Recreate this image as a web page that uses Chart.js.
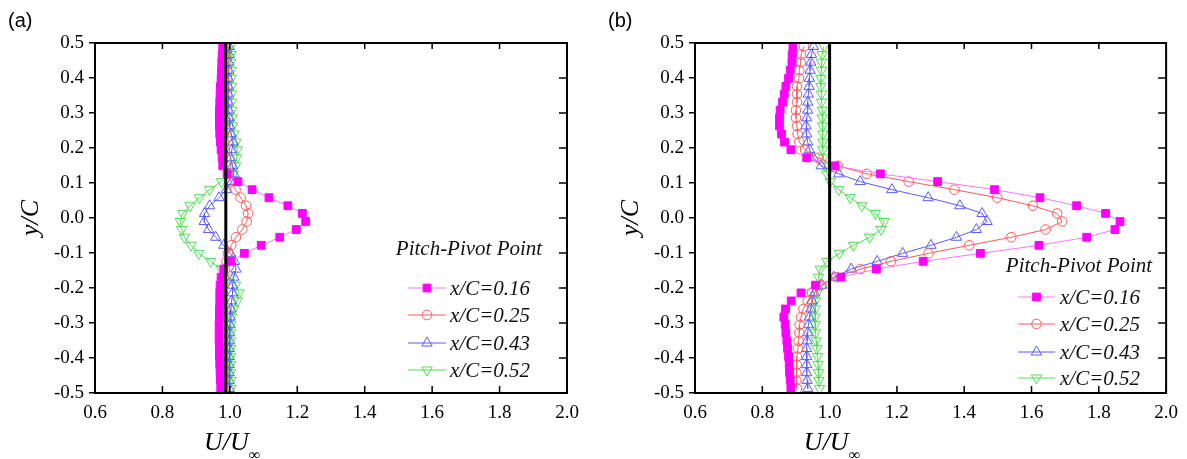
<!DOCTYPE html>
<html>
<head>
<meta charset="utf-8">
<script src="https://cdn.jsdelivr.net/npm/chart.js@4.4.1/dist/chart.umd.min.js"></script>
<style>
  body { margin: 0; background: #fff; }
  #wrap { position: relative; width: 1187px; height: 459px; overflow: hidden; }
  canvas { position: absolute; top: 0; }
  #chartA { left: 0; }
  #chartB { left: 600px; }
</style>
</head>
<body>
<div id="wrap">
  <canvas id="chartA" width="600" height="459"></canvas>
  <canvas id="chartB" width="587" height="459"></canvas>
</div>
<script>
// y/C positions of the measurement points (shared by every profile)
var yPos = [0.490, 0.467, 0.445, 0.422, 0.399, 0.376, 0.354, 0.331, 0.308, 0.286, 0.263,
  0.240, 0.217, 0.195, 0.172, 0.149, 0.126, 0.104, 0.081, 0.058, 0.035, 0.013,
  -0.010, -0.033, -0.055, -0.078, -0.101, -0.124, -0.146, -0.169, -0.192, -0.214,
  -0.237, -0.260, -0.283, -0.305, -0.328, -0.351, -0.373, -0.396, -0.419, -0.442, -0.464, -0.487];

var seriesNames = ['x/C=0.16', 'x/C=0.25', 'x/C=0.43', 'x/C=0.52'];

// panel (a) : U/Uinf
var aPink = [0.979, 0.977, 0.976, 0.975, 0.974, 0.972, 0.971, 0.970, 0.969, 0.969, 0.969, 0.970, 0.972, 0.974, 0.977, 0.979,
  0.992, 1.024, 1.066, 1.116, 1.172, 1.215, 1.225, 1.197, 1.148, 1.093, 1.043, 1.002, 0.982,
  0.974, 0.971, 0.970, 0.970, 0.969, 0.969, 0.968, 0.968, 0.968, 0.969, 0.969, 0.970, 0.971, 0.972, 0.973];
var aRed = [0.984, 0.983, 0.983, 0.982, 0.982, 0.981, 0.981, 0.980, 0.980, 0.980, 0.981, 0.982, 0.983, 0.985, 0.987, 0.989,
  0.995, 1.003, 1.017, 1.032, 1.048, 1.054, 1.050, 1.037, 1.018, 1.004, 0.994, 0.990, 0.986,
  0.983, 0.981, 0.980, 0.980, 0.980, 0.979, 0.979, 0.979, 0.979, 0.979, 0.979, 0.980, 0.980, 0.981, 0.981];
var aBlue = [0.998, 0.998, 0.997, 0.997, 0.996, 0.996, 0.996, 0.996, 0.997, 0.998, 1.000, 1.004, 1.010, 1.006, 1.002, 1.008,
  1.012, 1.006, 0.990, 0.968, 0.940, 0.925, 0.924, 0.937, 0.958, 0.982, 1.002, 1.014, 1.018,
  1.012, 1.008, 1.008, 1.005, 1.003, 1.001, 1.000, 0.999, 0.999, 0.998, 0.998, 0.998, 0.998, 0.998, 0.998];
var aGreen = [1.002, 1.003, 1.003, 1.004, 1.004, 1.005, 1.005, 1.005, 1.006, 1.007, 1.008, 1.012, 1.018, 1.022, 1.020, 1.017,
  1.010, 0.975, 0.940, 0.910, 0.882, 0.860, 0.853, 0.857, 0.865, 0.885, 0.908, 0.943, 0.975,
  0.998, 1.017, 1.027, 1.022, 1.012, 1.005, 1.003, 1.002, 1.002, 1.002, 1.002, 1.002, 1.002, 1.003, 1.003];

// panel (b)
var bPink = [0.891, 0.889, 0.888, 0.883, 0.878, 0.870, 0.865, 0.860, 0.853, 0.851, 0.851, 0.857, 0.866, 0.885, 0.932, 1.016,
  1.151, 1.321, 1.490, 1.625, 1.734, 1.820, 1.863, 1.848, 1.764, 1.622, 1.448, 1.278, 1.139,
  1.034, 0.958, 0.915, 0.886, 0.869, 0.864, 0.868, 0.870, 0.873, 0.875, 0.878, 0.880, 0.881, 0.883, 0.885];
var bRed = [0.924, 0.915, 0.914, 0.910, 0.909, 0.903, 0.903, 0.903, 0.900, 0.900, 0.903, 0.905, 0.910, 0.927, 0.965, 1.025,
  1.111, 1.235, 1.371, 1.498, 1.604, 1.676, 1.691, 1.642, 1.540, 1.415, 1.294, 1.182, 1.091,
  1.020, 0.975, 0.948, 0.935, 0.922, 0.915, 0.911, 0.910, 0.908, 0.906, 0.903, 0.902, 0.901, 0.901, 0.903];
var bBlue = [0.952, 0.946, 0.944, 0.942, 0.940, 0.939, 0.937, 0.935, 0.935, 0.932, 0.930, 0.932, 0.935, 0.940, 0.952, 0.975,
  1.027, 1.091, 1.185, 1.293, 1.387, 1.453, 1.468, 1.436, 1.377, 1.301, 1.217, 1.141, 1.064,
  1.012, 0.977, 0.955, 0.948, 0.944, 0.940, 0.937, 0.935, 0.933, 0.932, 0.932, 0.932, 0.932, 0.933, 0.935];
var bGreen = [0.983, 0.978, 0.976, 0.976, 0.974, 0.974, 0.976, 0.976, 0.978, 0.978, 0.979, 0.980, 0.980, 0.980, 0.982, 0.987,
  0.992, 1.002, 1.027, 1.061, 1.096, 1.136, 1.162, 1.153, 1.119, 1.071, 1.029, 0.992, 0.972,
  0.967, 0.970, 0.963, 0.958, 0.957, 0.957, 0.957, 0.958, 0.960, 0.962, 0.964, 0.966, 0.967, 0.968, 0.970];

// reference line U/Uinf in each panel
var refA = 0.988;
var refB = 1.0;

var xTicks = [0.6, 0.8, 1.0, 1.2, 1.4, 1.6, 1.8, 2.0];
var xTickLabels = ['0.6', '0.8', '1.0', '1.2', '1.4', '1.6', '1.8', '2.0'];
var yTicks = [0.5, 0.4, 0.3, 0.2, 0.1, 0.0, -0.1, -0.2, -0.3, -0.4, -0.5];
var yTickLabels = ['0.5', '0.4', '0.3', '0.2', '0.1', '0.0', '-0.1', '-0.2', '-0.3', '-0.4', '-0.5'];

var serif = "'Liberation Serif', 'Times New Roman', serif";

var styles = [
  { line: '#ff77ff', edge: '#ff00ff', fill: '#ff00ff', shape: 'rect', r: 5.5, rot: 0 },
  { line: '#ff5a5a', edge: '#ff5a5a', fill: 'rgba(255,255,255,0)', shape: 'circle', r: 4.8, rot: 0 },
  { line: '#5a5aff', edge: '#5a5aff', fill: 'rgba(255,255,255,0)', shape: 'triangle', r: 6, rot: 0 },
  { line: '#4fe04f', edge: '#4fe04f', fill: 'rgba(255,255,255,0)', shape: 'triangle', r: 6, rot: 180 }
];

function makeSet(i, xs) {
  var s = styles[i];
  return {
    label: seriesNames[i],
    data: xs.map(function (v, k) { return { x: v, y: yPos[k] }; }),
    showLine: true,
    borderColor: s.line,
    borderWidth: 1,
    pointStyle: s.shape,
    pointRadius: s.r,
    pointRotation: s.rot,
    pointBorderColor: s.edge,
    pointBackgroundColor: s.fill,
    pointBorderWidth: 1
  };
}

function refSet(v) {
  return {
    label: 'ref',
    data: [{ x: v, y: -0.5 }, { x: v, y: 0.5 }],
    showLine: true,
    borderColor: '#000',
    borderWidth: 3,
    pointRadius: 0
  };
}

function drawMarker(ctx, s, x, y) {
  if (Chart.helpers && Chart.helpers.drawPoint) {
    ctx.save();
    ctx.strokeStyle = s.edge;
    ctx.fillStyle = s.fill;
    ctx.lineWidth = 1;
    Chart.helpers.drawPoint(ctx, { pointStyle: s.shape, radius: s.r, rotation: s.rot, borderWidth: 1 }, x, y);
    ctx.restore();
  }
}

// frame, inner ticks, titles and legend
var decoPlugin = {
  id: 'deco',
  afterDraw: function (chart) {
    var o = chart.options.plugins.deco;
    var ctx = chart.ctx;
    var a = chart.chartArea;
    var xs = chart.scales.x;
    var ys = chart.scales.y;
    ctx.save();
    ctx.strokeStyle = '#000';
    ctx.lineWidth = 2;
    ctx.strokeRect(a.left, a.top, a.right - a.left, a.bottom - a.top);
    ctx.lineWidth = 1.5;
    ctx.beginPath();
    xTicks.forEach(function (v) {
      var px = xs.getPixelForValue(v);
      ctx.moveTo(px, a.top); ctx.lineTo(px, a.top + 6);
      ctx.moveTo(px, a.bottom); ctx.lineTo(px, a.bottom - 7);
    });
    yTicks.forEach(function (v) {
      var py = ys.getPixelForValue(v);
      ctx.moveTo(a.right, py); ctx.lineTo(a.right - 8, py);
    });
    ctx.stroke();

    // panel tag
    ctx.fillStyle = '#000';
    ctx.font = "20px 'Liberation Sans', Arial, sans-serif";
    ctx.textBaseline = 'middle';
    ctx.textAlign = 'left';
    ctx.fillText(o.tag, 8, 21);

    // y title
    ctx.font = 'italic 26px ' + serif;
    ctx.save();
    ctx.translate(31, ys.getPixelForValue(0));
    ctx.rotate(-Math.PI / 2);
    ctx.textAlign = 'center';
    ctx.fillText('y/C', 0, 0);
    ctx.restore();

    // x title U/Uinf
    var cx = xs.getPixelForValue(o.xTitleAt);
    ctx.textAlign = 'left';
    ctx.textBaseline = 'alphabetic';
    var w = ctx.measureText('U/U').width;
    ctx.fillText('U/U', cx - w / 2, 450);
    ctx.font = 'italic 16px ' + serif;
    ctx.fillText('\u221E', cx + w / 2, 460);

    // legend
    ctx.font = 'italic 21px ' + serif;
    ctx.textAlign = 'center';
    ctx.textBaseline = 'middle';
    ctx.fillStyle = '#111';
    ctx.fillText('Pitch-Pivot Point', o.leg.titleX, o.leg.titleY);
    ctx.textAlign = 'left';
    for (var i = 0; i < seriesNames.length; i++) {
      var y = o.leg.rows[i];
      var s = styles[i];
      ctx.strokeStyle = s.line;
      ctx.lineWidth = 1;
      ctx.beginPath();
      ctx.moveTo(o.leg.x0, y); ctx.lineTo(o.leg.x1, y);
      ctx.stroke();
      drawMarker(ctx, s, (o.leg.x0 + o.leg.x1) / 2, y);
      ctx.fillStyle = '#111';
      ctx.fillText(seriesNames[i], o.leg.textX, y + 1);
    }
    ctx.restore();
  }
};

function makeChart(id, sets, ref, rightPad, deco) {
  var ctx = document.getElementById(id).getContext('2d');
  var datasets = [refSet(ref)];
  for (var i = 0; i < sets.length; i++) {
    datasets.push(makeSet(i, sets[i]));
  }
  return new Chart(ctx, {
    type: 'scatter',
    data: { datasets: datasets },
    options: {
      responsive: false,
      animation: false,
      layout: { padding: { left: 0, top: 43, right: rightPad, bottom: 0 } },
      plugins: { legend: { display: false }, tooltip: { enabled: false }, deco: deco },
      scales: {
        x: {
          type: 'linear', min: 0.6, max: 2.0,
          afterFit: function (s) { s.height = 66; },
          afterBuildTicks: function (s) { s.ticks = xTicks.map(function (v) { return { value: v }; }); },
          ticks: {
            padding: 9, color: '#000', font: { family: serif, size: 19 },
            callback: function (v, i) { return xTickLabels[i]; }
          },
          grid: { drawOnChartArea: false, drawTicks: false },
          border: { display: true, color: '#000', width: 2 }
        },
        y: {
          type: 'linear', min: -0.5, max: 0.5,
          afterFit: function (s) { s.width = 95; },
          afterBuildTicks: function (s) { s.ticks = yTicks.slice().reverse().map(function (v) { return { value: v }; }); },
          ticks: {
            padding: 5, color: '#000', font: { family: serif, size: 19 },
            callback: function (v, i) { return yTickLabels[yTicks.length - 1 - i]; }
          },
          grid: { drawOnChartArea: false, drawTicks: true, tickLength: 6, color: '#000', lineWidth: 1.5 },
          border: { display: true, color: '#000', width: 2 }
        }
      }
    },
    plugins: [decoPlugin]
  });
}

makeChart('chartA', [aPink, aRed, aBlue, aGreen], refA, 33, {
  tag: '(a)', xTitleAt: 0.99,
  leg: { titleX: 469, titleY: 249, x0: 408, x1: 446, textX: 450, rows: [288, 315, 343, 370] }
});

makeChart('chartB', [bPink, bRed, bBlue, bGreen], refB, 20, {
  tag: '(b)', xTitleAt: 0.99,
  leg: { titleX: 479, titleY: 266, x0: 418, x1: 455, textX: 460, rows: [297, 324, 352, 378] }
});
</script>
</body>
</html>
